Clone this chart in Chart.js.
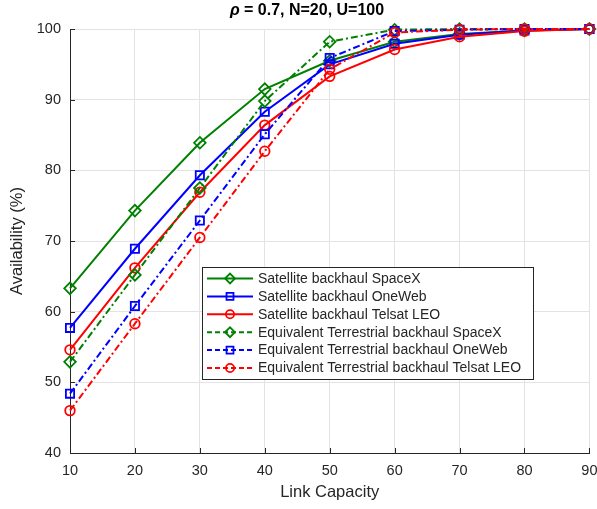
<!DOCTYPE html>
<html>
<head>
<meta charset="utf-8">
<script src="https://cdn.jsdelivr.net/npm/chart.js@4"></script>
<style>
  body { margin: 0; background: #fff; }
  #wrap { width: 597px; height: 509px; position: relative; }
</style>
</head>
<body>
<div id="wrap"><canvas id="availChart"></canvas></div>
<script>
// link capacity on the x axis
const capacity = [10, 20, 30, 40, 50, 60, 70, 80, 90];

// availability (%) per scheme
const satSpaceX  = [63.3, 74.3, 83.9, 91.5, 95.5, 98.2, 99.3, 99.8, 100];
const satOneWeb  = [57.7, 68.9, 79.3, 88.3, 95.0, 97.9, 99.2, 99.8, 100];
const satTelesat = [54.6, 66.2, 76.9, 86.4, 93.3, 97.1, 98.9, 99.7, 100];
const terSpaceX  = [52.9, 65.2, 77.5, 89.8, 98.2, 99.9, 100, 100, 100];
const terOneWeb  = [48.4, 60.8, 72.9, 85.1, 95.9, 99.7, 99.9, 100, 100];
const terTelesat = [46.0, 58.3, 70.5, 82.7, 94.3, 99.5, 99.9, 100, 100];

const seriesLabels = [
    'Satellite backhaul SpaceX',
    'Satellite backhaul OneWeb',
    'Satellite backhaul Telsat LEO',
    'Equivalent Terrestrial backhaul SpaceX',
    'Equivalent Terrestrial backhaul OneWeb',
    'Equivalent Terrestrial backhaul Telsat LEO'
];
const yTicks = [40, 50, 60, 70, 80, 90, 100];

const FONT = '"Liberation Sans", Arial, Helvetica, sans-serif';
const INK = '#262626';
const DASH = [7, 3, 2, 3];

const styles = [
    { color: '#008000', marker: 'rectRot', r: 5.8, dash: [] },
    { color: '#0000ff', marker: 'rect', r: 5.8, dash: [] },
    { color: '#ff0000', marker: 'circle', r: 4.8, dash: [] },
    { color: '#008000', marker: 'rectRot', r: 5.8, dash: DASH },
    { color: '#0000ff', marker: 'rect', r: 5.8, dash: DASH },
    { color: '#ff0000', marker: 'circle', r: 4.8, dash: DASH }
];
const seriesData = [satSpaceX, satOneWeb, satTelesat, terSpaceX, terOneWeb, terTelesat];

const datasets = seriesData.map((vals, i) => ({
    label: seriesLabels[i],
    data: vals.map((v, k) => ({ x: capacity[k], y: v })),
    borderColor: styles[i].color,
    borderWidth: 2,
    borderDash: styles[i].dash,
    pointStyle: styles[i].marker,
    pointRadius: styles[i].r,
    pointBorderWidth: 1.8,
    pointBorderColor: styles[i].color,
    pointBackgroundColor: 'rgba(0,0,0,0)',
    tension: 0,
    clip: false,
    order: 6 - i
}));

// title, inward tick marks and the boxed legend, MATLAB style
const extras = {
    id: 'extras',
    afterDraw(chart) {
        const { ctx, chartArea: a, scales } = chart;
        ctx.save();
        // inward ticks
        ctx.strokeStyle = INK;
        ctx.lineWidth = 1;
        ctx.beginPath();
        capacity.forEach(v => {
            const x = Math.round(scales.x.getPixelForValue(v)) + 0.5;
            ctx.moveTo(x, a.bottom);
            ctx.lineTo(x, a.bottom - 5);
        });
        yTicks.forEach(v => {
            const y = Math.round(scales.y.getPixelForValue(v)) + 0.5;
            ctx.moveTo(a.left, y);
            ctx.lineTo(a.left + 5, y);
        });
        ctx.stroke();

        // title
        ctx.fillStyle = '#000';
        ctx.textBaseline = 'middle';
        ctx.font = 'italic bold 16px ' + FONT;
        const rho = '\u03C1';
        const rest = ' = 0.7, N=20, U=100';
        const w1 = ctx.measureText(rho).width;
        ctx.font = 'bold 16px ' + FONT;
        const w2 = ctx.measureText(rest).width;
        let tx = 307 - (w1 + w2) / 2;
        ctx.font = 'italic bold 16px ' + FONT;
        ctx.textAlign = 'left';
        ctx.fillText(rho, tx, 11);
        ctx.font = 'bold 16px ' + FONT;
        ctx.fillText(rest, tx + w1, 11);

        // legend
        const bx = 202, by = 267, bw = 331, bh = 112;
        ctx.fillStyle = '#fff';
        ctx.fillRect(bx, by, bw, bh);
        ctx.strokeStyle = INK;
        ctx.lineWidth = 1;
        ctx.strokeRect(bx + 0.5, by + 0.5, bw, bh);
        ctx.font = '14px ' + FONT;
        seriesLabels.forEach((lab, i) => {
            const s = styles[i];
            const y = 278.5 + i * 17.9;
            ctx.strokeStyle = s.color;
            ctx.lineWidth = 2;
            ctx.setLineDash(s.dash.length ? [5, 3] : []);
            ctx.beginPath();
            ctx.moveTo(207, y);
            ctx.lineTo(253, y);
            ctx.stroke();
            ctx.setLineDash([]);
            ctx.lineWidth = 1.8;
            ctx.fillStyle = 'rgba(0,0,0,0)';
            Chart.helpers.drawPoint(ctx, {
                pointStyle: s.marker, radius: s.r * 0.85, rotation: 0, borderWidth: 1.8
            }, 230, y);
            ctx.fillStyle = INK;
            ctx.fillText(lab, 258, y + 0.5);
        });
        ctx.restore();
    }
};

new Chart(document.getElementById('availChart'), {
    type: 'line',
    data: { datasets },
    plugins: [extras],
    options: {
        responsive: true,
        maintainAspectRatio: false,
        animation: false,
        layout: { padding: { top: 29, right: 6, left: 0, bottom: 0 } },
        plugins: { legend: { display: false }, tooltip: { enabled: false } },
        scales: {
            x: {
                type: 'linear',
                min: 10, max: 90,
                grid: { color: '#e3e3e3', drawTicks: false },
                border: { display: true, color: INK, width: 1 },
                ticks: { stepSize: 10, padding: 9, color: INK, font: { family: FONT, size: 14.5 } },
                title: { display: true, text: 'Link Capacity', color: INK, padding: { top: 0, bottom: 7 },
                         font: { family: FONT, size: 16.5 } },
                afterFit(scale) { scale.height = 56; scale.paddingLeft = 0; scale.paddingRight = 0; }
            },
            y: {
                min: 40, max: 100,
                grid: { color: '#e3e3e3', drawTicks: false },
                border: { display: true, color: INK, width: 1 },
                ticks: { stepSize: 10, padding: 9, color: INK, font: { family: FONT, size: 14.5 } },
                title: { display: true, text: 'Availability (%)', color: INK, padding: { top: 8, bottom: 0 },
                         font: { family: FONT, size: 16.5 } },
                afterFit(scale) { scale.width = 70; scale.paddingTop = 0; scale.paddingBottom = 0; }
            }
        }
    }
});
</script>
</body>
</html>
